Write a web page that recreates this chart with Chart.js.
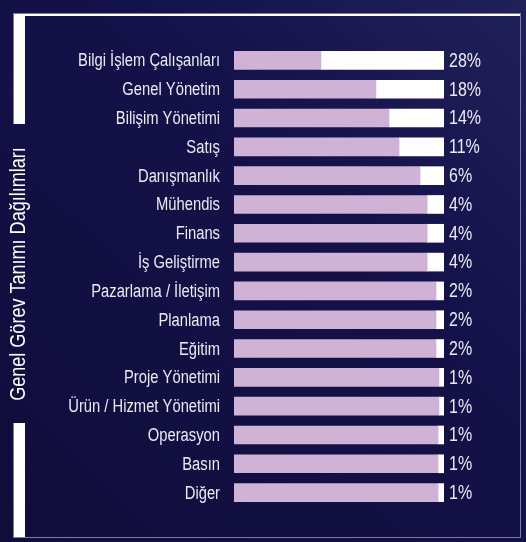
<!DOCTYPE html>
<html>
<head>
<meta charset="utf-8">
<script src="https://cdn.jsdelivr.net/npm/chart.js@4/dist/chart.umd.min.js"></script>
<style>
html,body{margin:0;padding:0;background:#120f3e;}
#wrap{width:526px;height:542px;position:relative;}
canvas{display:block;}
</style>
</head>
<body>
<div id="wrap"><canvas id="c" width="526" height="542"></canvas></div>
<script>
// Categories (job titles)
const categories = [
  "Bilgi İşlem Çalışanları", "Genel Yönetim", "Bilişim Yönetimi", "Satış",
  "Danışmanlık", "Mühendis", "Finans", "İş Geliştirme",
  "Pazarlama / İletişim", "Planlama", "Eğitim", "Proje Yönetimi",
  "Ürün / Hizmet Yönetimi", "Operasyon", "Basın", "Diğer"
];
// Printed percentage labels
const percentLabels = ["28%","18%","14%","11%","6%","4%","4%","4%","2%","2%","2%","1%","1%","1%","1%","1%"];
// White segment lengths (same units as the scale)
const shareValues = [29.3, 16.2, 13.1, 10.7, 5.7, 4.0, 4.0, 4.0, 1.9, 1.9, 1.9, 1.2, 1.2, 1.4, 1.4, 1.4];
// Full length of each bar
const barTotal = 50;
const restValues = shareValues.map(v => barTotal - v);
const chartTitle = 'Genel Görev Tanımı Dağılımları';

const FONT = "'Liberation Sans', Arial, sans-serif";
const NARROW = 0.82;

function narrowText(ctx, text, x, y, size, align, rot) {
  ctx.save();
  ctx.translate(x, y);
  if (rot) ctx.rotate(rot);
  ctx.scale(NARROW, 1);
  ctx.font = size + "px " + FONT;
  ctx.textAlign = align;
  ctx.textBaseline = 'middle';
  ctx.fillText(text, 0, 0);
  ctx.restore();
}

const framePlugin = {
  id: 'frame',
  beforeDraw(chart) {
    const ctx = chart.ctx;
    const W = chart.width, H = chart.height;
    ctx.save();
    const g = ctx.createLinearGradient(0, H, W, 0);
    g.addColorStop(0, '#100d3b');
    g.addColorStop(0.65, '#14124a');
    g.addColorStop(1, '#212159');
    ctx.fillStyle = g;
    ctx.fillRect(0, 0, W, H);
    // star glow
    const rg = ctx.createRadialGradient(509, 33, 0, 509, 33, 6);
    rg.addColorStop(0, 'rgba(170,170,220,0.8)');
    rg.addColorStop(1, 'rgba(170,170,220,0)');
    ctx.fillStyle = rg;
    ctx.fillRect(500, 24, 18, 18);
    // frame
    ctx.fillStyle = '#ffffff';
    ctx.fillRect(14, 14, 507, 524);
    ctx.fillStyle = g;
    ctx.fillRect(25, 16, 496, 522);
    ctx.strokeStyle = '#7d7a9e';
    ctx.lineWidth = 1;
    ctx.strokeRect(13.5, 13.5, 507, 524);
    // gap for vertical title
    ctx.fillStyle = g;
    ctx.fillRect(12, 124, 14, 299);
    ctx.fillStyle = '#ffffff';
    narrowText(ctx, chartTitle, 19, 274, 22, 'center', -Math.PI / 2);
    ctx.restore();
  }
};

const labelPlugin = {
  id: 'labels',
  afterDatasetsDraw(chart) {
    const ctx = chart.ctx;
    const xs = chart.scales.x, ys = chart.scales.y;
    ctx.save();
    ctx.fillStyle = '#eceaf4';
    ys.ticks.forEach((t, i) => {
      narrowText(ctx, categories[i], ys.right - 14, ys.getPixelForTick(i) + 1, 18, 'right');
    });
    ctx.fillStyle = '#eeeaf5';
    percentLabels.forEach((t, i) => {
      const x = xs.getPixelForValue(restValues[i] + shareValues[i]) + 5;
      const y = ys.getPixelForValue(i) + 1;
      narrowText(ctx, t, x, y, 19.5, 'left');
    });
    ctx.restore();
  }
};

new Chart(document.getElementById('c'), {
  type: 'bar',
  data: {
    labels: categories,
    datasets: [
      { data: restValues, backgroundColor: '#cfb2d5', borderWidth: 0, barThickness: 18 },
      { data: shareValues, backgroundColor: '#ffffff', borderWidth: 0, barThickness: 18 }
    ]
  },
  options: {
    indexAxis: 'y',
    responsive: false,
    animation: false,
    layout: { padding: { top: 46, bottom: 35, right: 82, left: 0 } },
    plugins: {
      legend: { display: false },
      tooltip: { enabled: false },
      title: { display: false }
    },
    scales: {
      x: { stacked: true, min: 0, max: barTotal, display: false },
      y: {
        stacked: true,
        grid: { display: false, drawTicks: false },
        border: { display: false },
        ticks: { display: false, autoSkip: false },
        afterFit(s) { s.width = 234; }
      }
    }
  },
  plugins: [framePlugin, labelPlugin]
});
</script>
</body>
</html>
